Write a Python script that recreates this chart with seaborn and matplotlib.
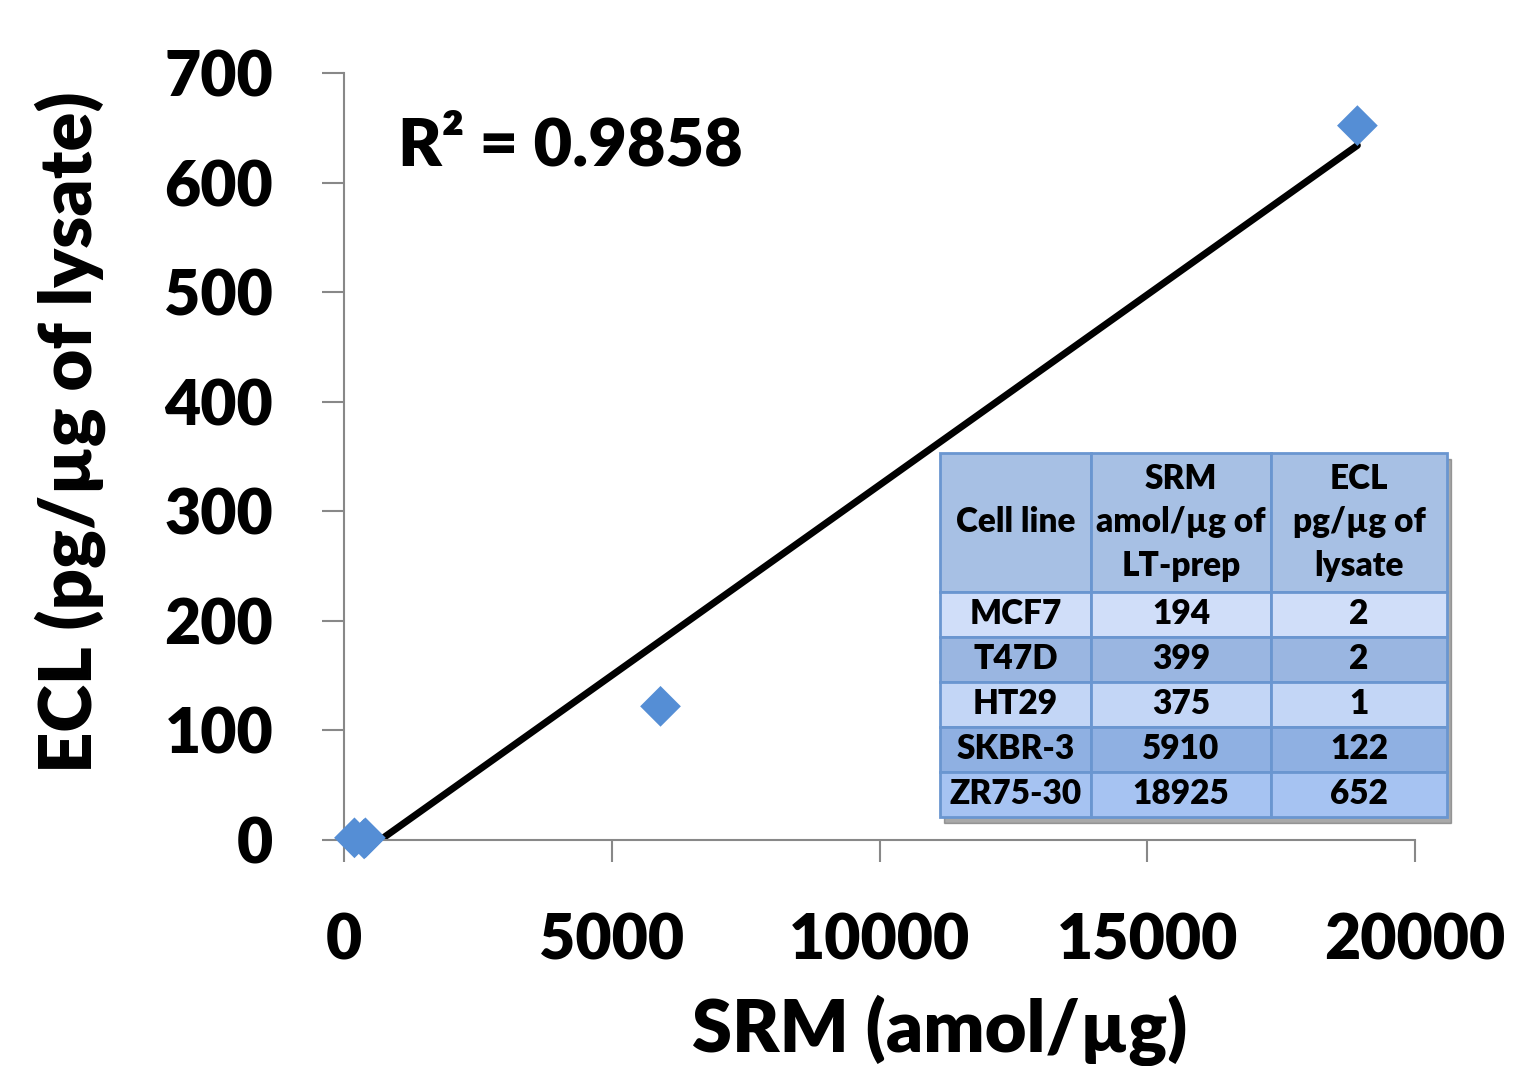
import numpy as np
import pandas as pd
import matplotlib.pyplot as plt
import seaborn as sns
from matplotlib.patches import Rectangle

cell_lines = ["MCF7", "T47D", "HT29", "SKBR-3", "ZR75-30"]
srm = [194, 399, 375, 5910, 18925]
ecl = [2, 2, 1, 122, 652]
headers = ["Cell line", "SRM\namol/µg of\nLT-prep", "ECL\npg/µg of\nlysate"]
r2_text = "R² = 0.9858"

df = pd.DataFrame({"cell": cell_lines, "srm": srm, "ecl": ecl})

sns.set_style("ticks")
plt.rcParams["font.family"] = ["Lato", "DejaVu Sans"]
plt.rcParams["font.weight"] = "heavy"
plt.rcParams["text.color"] = "black"
plt.rcParams["axes.labelcolor"] = "black"
plt.rcParams["xtick.labelcolor"] = "black"
plt.rcParams["ytick.labelcolor"] = "black"

fig = plt.figure(figsize=(15.13, 10.66), dpi=100)
ax = fig.add_axes([0.2274, 0.212, 0.7078, 0.7195])

axis_gray = "#888888"
blue = "#558ED5"
W = "heavy"

sns.regplot(data=df, x="srm", y="ecl", scatter=False, ci=None, ax=ax,
            line_kws={"color": "black", "lw": 5, "solid_capstyle": "round",
                      "zorder": 2})
sns.scatterplot(data=df, x="srm", y="ecl", marker="D", s=430, color=blue,
                edgecolor="none", ax=ax, zorder=3, clip_on=False)

ax.set_xlim(0, 20000)
ax.set_ylim(0, 700)
ax.set_xticks(range(0, 20001, 5000))
ax.set_yticks(range(0, 701, 100))
for side in ["top", "right"]:
    ax.spines[side].set_visible(False)
for side in ["left", "bottom"]:
    ax.spines[side].set_color(axis_gray)
    ax.spines[side].set_linewidth(1.5)
ax.tick_params(axis="both", direction="out", length=16, width=1.5,
               color=axis_gray, labelsize=45)
ax.tick_params(axis="x", pad=36)
ax.tick_params(axis="y", pad=35)
for lab in ax.get_xticklabels() + ax.get_yticklabels():
    lab.set_fontweight(W)

ax.set_xlabel("SRM (amol/µg)", fontsize=52, fontweight=W)
ax.set_ylabel("ECL (pg/µg of lysate)", fontsize=52, fontweight=W)
ax.xaxis.set_label_coords(0.556, -0.202)
ax.yaxis.set_label_coords(-0.222, 0.532)

ax.text(0.05, 0.905, r2_text, transform=ax.transAxes, fontsize=48,
        fontweight=W, va="center", ha="left")

# inset table
header_bg = "#A7C0E4"
row_bg = ["#D0DEF9", "#9AB6E1", "#C3D6F6", "#8FB0E2", "#A6C3F2"]
edge = "#6A96D0"
col_w = [151, 180, 176]
rows = [[c, str(s), str(e)] for c, s, e in zip(cell_lines, srm, ecl)]

tbl_box = [0.5565, 0.030, 0.4734, 0.4746]
shadow = Rectangle((tbl_box[0] + 0.004, tbl_box[1] - 0.008), tbl_box[2],
                   tbl_box[3], transform=ax.transAxes, color="#555555",
                   alpha=0.5, zorder=4, clip_on=False)
ax.add_patch(shadow)

tbl = ax.table(cellText=rows, colLabels=headers, cellLoc="center",
               bbox=tbl_box, zorder=5)
tbl.auto_set_font_size(False)
for (r, c), cell in tbl.get_celld().items():
    cell.set_width(col_w[c])
    cell.set_height(139 if r == 0 else 45)
    cell.set_edgecolor(edge)
    cell.set_linewidth(2)
    cell.set_facecolor(header_bg if r == 0 else row_bg[r - 1])
    t = cell.get_text()
    t.set_fontsize(24)
    t.set_fontweight(W)
    t.set_linespacing(1.45)

plt.savefig("out.png", dpi=100)
